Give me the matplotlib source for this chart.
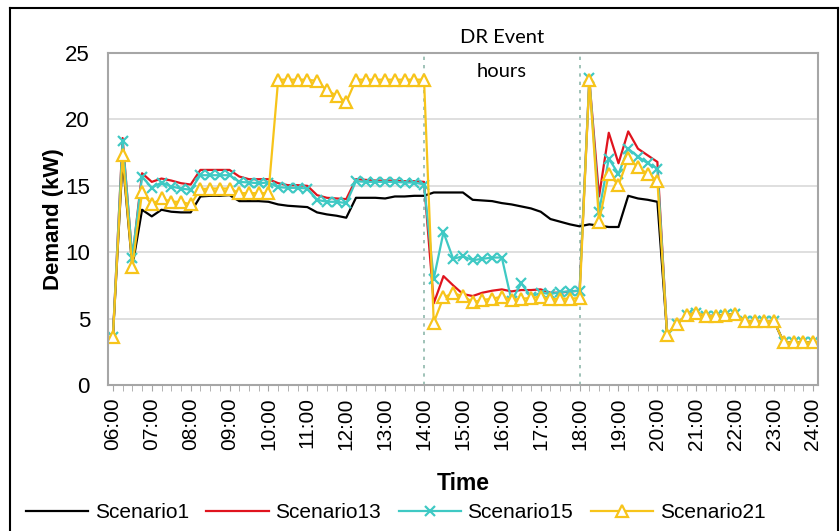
import matplotlib
matplotlib.use("Agg")
import matplotlib.pyplot as plt
from matplotlib.lines import Line2D

plt.rcParams['font.family'] = ['Liberation Sans', 'DejaVu Sans']

# 15-minute demand profile, 06:00 .. 24:00 (73 points)
hour_labels = ["06:00", "07:00", "08:00", "09:00", "10:00", "11:00", "12:00",
               "13:00", "14:00", "15:00", "16:00", "17:00", "18:00", "19:00",
               "20:00", "21:00", "22:00", "23:00", "24:00"]

scenario1 = [3.6, 17.0, 8.9, 13.2, 12.7, 13.2, 13.05, 13.0, 13.0,
             14.2, 14.25, 14.25, 14.3, 13.85, 13.85, 13.85, 13.8,
             13.6, 13.5, 13.45, 13.4, 13.0, 12.85, 12.75, 12.6,
             14.1, 14.1, 14.1, 14.05, 14.2, 14.2, 14.25, 14.25,
             14.5, 14.5, 14.5, 14.5, 13.95, 13.9, 13.85, 13.7,
             13.6, 13.45, 13.3, 13.05, 12.5, 12.3, 12.1, 11.95,
             12.1, 12.0, 11.9, 11.9, 14.25, 14.05, 13.95, 13.8,
             3.8, 4.6, 5.25, 5.45, 5.2, 5.2, 5.25, 5.35,
             4.8, 4.8, 4.8, 4.8, 3.2, 3.2, 3.2, 3.2]

scenario13 = [3.6, 18.6, 9.5, 15.95, 15.3, 15.55, 15.4, 15.2, 15.1,
              16.2, 16.2, 16.2, 16.2, 15.7, 15.5, 15.5, 15.5,
              15.2, 15.05, 15.05, 15.0, 14.3, 14.1, 14.05, 14.0,
              15.5, 15.45, 15.4, 15.4, 15.4, 15.35, 15.35, 15.3,
              6.15, 8.2, 7.5, 6.85, 6.7, 6.95, 7.1, 7.2,
              7.05, 7.15, 7.15, 7.2, 6.95, 6.95, 7.05, 7.1,
              23.0, 14.2, 19.0, 16.7, 19.1, 17.8, 17.3, 16.8,
              3.8, 4.6, 5.25, 5.45, 5.2, 5.2, 5.25, 5.35,
              4.8, 4.8, 4.8, 4.8, 3.2, 3.2, 3.2, 3.2]

scenario15 = [3.6, 18.4, 9.6, 15.7, 14.85, 15.25, 14.95, 14.8, 14.7,
              15.8, 15.8, 15.8, 15.8, 15.3, 15.25, 15.2, 15.25,
              14.9, 14.85, 14.85, 14.8, 13.95, 13.8, 13.8, 13.7,
              15.35, 15.3, 15.3, 15.3, 15.3, 15.25, 15.25, 15.1,
              8.0, 11.5, 9.5, 9.7, 9.4, 9.5, 9.6, 9.6,
              6.35, 7.65, 6.65, 6.95, 6.85, 7.0, 7.05, 7.1,
              23.1, 13.05, 17.05, 15.9, 17.8, 17.2, 16.7, 16.3,
              3.8, 4.6, 5.25, 5.45, 5.2, 5.2, 5.25, 5.35,
              4.8, 4.8, 4.8, 4.8, 3.2, 3.2, 3.2, 3.2]

scenario21 = [3.6, 17.3, 8.9, 14.5, 13.6, 14.05, 13.8, 13.8, 13.6,
              14.75, 14.8, 14.8, 14.8, 14.45, 14.45, 14.45, 14.45,
              23.0, 23.0, 23.0, 23.0, 22.9, 22.2, 21.8, 21.3,
              23.0, 23.0, 23.0, 23.0, 23.0, 23.0, 23.0, 23.0,
              4.7, 6.6, 6.9, 6.7, 6.25, 6.4, 6.5, 6.65,
              6.4, 6.5, 6.55, 6.65, 6.45, 6.5, 6.5, 6.55,
              23.0, 12.3, 15.9, 15.05, 17.1, 16.4, 15.9, 15.4,
              3.8, 4.6, 5.25, 5.45, 5.2, 5.2, 5.25, 5.35,
              4.8, 4.8, 4.8, 4.8, 3.2, 3.2, 3.2, 3.2]

dr_start, dr_end = "14:00", "18:00"

x = list(range(len(scenario1)))
steps_per_hour = 4

fig = plt.figure(figsize=(8.4, 5.31), dpi=100)
ax = fig.add_axes([0.1286, 0.275, 0.845, 0.625])

grey = "#a6a6a6"
ax.plot(x, scenario1, color="black", lw=1.6, label="Scenario1")
ax.plot(x, scenario13, color="#e0141e", lw=1.6, label="Scenario13")
ax.plot(x, scenario15, color="#3fc9c4", lw=1.6, marker="x", ms=7.5,
        mew=1.6, label="Scenario15")
ax.plot(x, scenario21, color="#f7c41a", lw=1.6, marker="^", ms=8.5,
        mfc="white", mew=1.6, label="Scenario21")

# DR event window
for t in (dr_start, dr_end):
    xi = hour_labels.index(t) * steps_per_hour
    ax.axvline(xi, color="#8fb8ac", ls=(0, (2, 3)), lw=1.2, zorder=0)
xm = (hour_labels.index(dr_start) + hour_labels.index(dr_end)) / 2 * steps_per_hour
ax.text(xm, 26.2, "DR Event", ha="center", va="center", fontsize=14.5,
        family=["Lato", "DejaVu Sans"], clip_on=False)
ax.text(xm, 23.6, "hours", ha="center", va="center", fontsize=14.5,
        family=["Lato", "DejaVu Sans"])

ax.set_xlim(-0.5, len(x) - 0.5)
ax.set_ylim(0, 25)
ax.set_yticks([0, 5, 10, 15, 20, 25])
ax.set_xticks(range(0, len(x), steps_per_hour))
ax.set_xticklabels(hour_labels, rotation=90)
ax.set_xticks(x, minor=True)
ax.tick_params(axis="x", which="both", length=4, color=grey, labelsize=15, pad=5)
ax.tick_params(axis="y", length=0, labelsize=16, pad=13)
ax.yaxis.grid(True, color="#d9d9d9", lw=1.2)
ax.set_axisbelow(True)
for s in ax.spines.values():
    s.set_color(grey)
    s.set_linewidth(1.5)

ax.set_xlabel("Time", fontsize=16.5, fontweight="bold", labelpad=16)
ax.set_ylabel("Demand (kW)", fontsize=16, fontweight="bold")
ax.yaxis.set_label_coords(-0.062, 0.5)

ax.legend(loc="upper center", bbox_to_anchor=(0.405, -0.30), ncol=4,
          frameon=False, fontsize=15, handlelength=3.0, columnspacing=0.85,
          handletextpad=0.3)

# outer frame
fig.add_artist(Line2D([10 / 840, 10 / 840], [0, 1 - 8 / 531], color="black", lw=1.5))
fig.add_artist(Line2D([10 / 840, 838 / 840], [1 - 8 / 531, 1 - 8 / 531], color="black", lw=1.5))
fig.add_artist(Line2D([838 / 840, 838 / 840], [0, 1 - 8 / 531], color="black", lw=1.5))

fig.savefig("out.png", dpi=100)
